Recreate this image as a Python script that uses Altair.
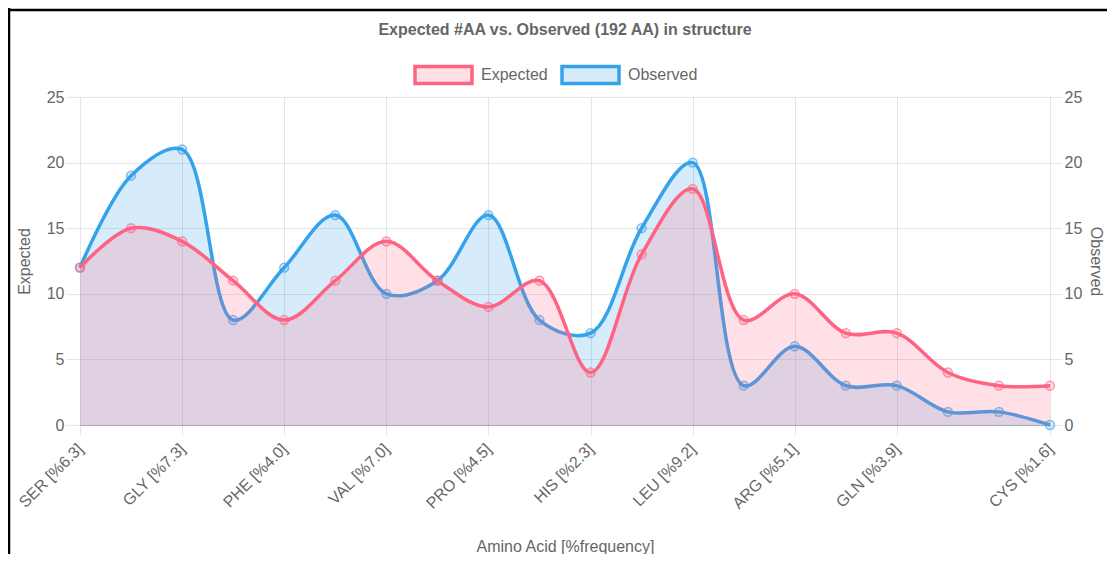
import altair as alt
import pandas as pd

categories = ["SER [%6.3]", "ALA [%7.8]", "GLY [%7.3]", "THR [%5.6]", "PHE [%4.0]",
              "ILE [%5.9]", "VAL [%7.0]", "ASP [%5.5]", "PRO [%4.5]", "LYS [%5.8]",
              "HIS [%2.3]", "GLU [%6.8]", "LEU [%9.2]", "ASN [%4.1]", "ARG [%5.1]",
              "TYR [%3.6]", "GLN [%3.9]", "MET [%2.1]", "TRP [%1.4]", "CYS [%1.6]"]
expected = [12, 15, 14, 11, 8, 11, 14, 11, 9, 11, 4, 13, 18, 8, 10, 7, 7, 4, 3, 3]
observed = [12, 19, 21, 8, 12, 16, 10, 11, 16, 8, 7, 15, 20, 3, 6, 3, 3, 1, 1, 0]
shown_labels = ["SER [%6.3]", "GLY [%7.3]", "PHE [%4.0]", "VAL [%7.0]", "PRO [%4.5]",
                "HIS [%2.3]", "LEU [%9.2]", "ARG [%5.1]", "GLN [%3.9]", "CYS [%1.6]"]
series_names = ["Expected", "Observed"]
y_ticks = [0, 5, 10, 15, 20, 25]

df = pd.DataFrame({
    "category": categories * 2,
    "series": [series_names[0]] * len(categories) + [series_names[1]] * len(categories),
    "value": expected + observed,
})

PINK = "rgb(255,99,132)"
BLUE = "rgb(54,162,235)"
PINK_F = "rgba(255,99,132,0.2)"
BLUE_F = "rgba(54,162,235,0.2)"
GRID = "rgba(0,0,0,0.1)"
TXT = "#666666"
W, H = 970, 328
INTERP = "catmull-rom"

fill_scale = alt.Scale(domain=series_names, range=[PINK_F, BLUE_F])
stroke_scale = alt.Scale(domain=series_names, range=[PINK, BLUE])
legend = alt.Legend(
    title=None, orient="none", legendX=333, legendY=-53, direction="horizontal",
    symbolType="M-1,-0.3H1V0.3H-1Z", symbolSize=3249, symbolStrokeWidth=3.5,
    symbolOpacity=1, labelFontSize=16, labelColor=TXT, labelOffset=7,
    columnPadding=7, padding=0,
)

x_enc = alt.X(
    "category:N", sort=categories,
    scale=alt.Scale(type="point", padding=0),
    axis=alt.Axis(
        values=shown_labels, title="Amino Acid [%frequency]",
        labelAngle=-45, labelAlign="right", labelBaseline="middle",
        labelFontSize=16, labelColor=TXT, labelPadding=11,
        tickSize=10, tickColor=GRID, grid=True, gridColor=GRID,
        domainColor="rgba(0,0,0,0.25)", titleFontSize=16, titleColor=TXT,
        titleFontWeight="normal", titleY=121, titleBaseline="middle",
    ),
)


def y_enc(orient):
    return alt.Y(
        "value:Q", scale=alt.Scale(domain=[0, 25], nice=False),
        axis=alt.Axis(
            orient=orient, values=y_ticks, title=("Expected" if orient == "left" else "Observed"),
            grid=(orient == "left"), gridColor=GRID, domain=False,
            tickSize=14 if orient == "left" else 12, tickColor=GRID, labelPadding=2,
            labelFontSize=16, labelColor=TXT, titleFontSize=16, titleColor=TXT,
            titleFontWeight="normal", titleBaseline="middle",
            titleX=(-56 if orient == "left" else 45), titleY=H / 2,
        ),
    )


def series_layer(name, orient, line_color, fill_color):
    base = alt.Chart(df).transform_filter(alt.datum.series == name).encode(x=x_enc, y=y_enc(orient))
    area = base.mark_area(interpolate=INTERP).encode(
        fill=alt.Fill("series:N", scale=fill_scale, legend=legend))
    line = base.mark_line(interpolate=INTERP, strokeWidth=3.5).encode(
        stroke=alt.Stroke("series:N", scale=stroke_scale, legend=legend))
    pts = base.mark_point(shape="circle", size=78, filled=False, fill=fill_color,
                          stroke=line_color, strokeWidth=1.5, strokeOpacity=0.65, opacity=1)
    return alt.layer(area, line, pts)


obs = series_layer("Observed", "right", BLUE, BLUE_F)
exp = series_layer("Expected", "left", PINK, PINK_F)

frame_src = alt.Chart(pd.DataFrame({"k": [0]}))
border_left = frame_src.mark_rule(color="black", strokeWidth=2.5).encode(
    x=alt.value(-71), y=alt.value(-89), y2=alt.value(470))
border_top = frame_src.mark_rule(color="black", strokeWidth=2.5).encode(
    x=alt.value(-73), x2=alt.value(1030), y=alt.value(-87))

chart = alt.layer(obs, exp, border_left, border_top).resolve_scale(y="independent").properties(
    width=W, height=H,
    autosize=alt.AutoSizeParams(type="none"),
    padding={"left": 72, "top": 89, "right": 57, "bottom": 129},
    title=alt.TitleParams(
        "Expected #AA vs. Observed (192 AA) in structure",
        fontSize=16, fontWeight="bold", color=TXT, anchor="middle", frame="group",
        offset=0, baseline="alphabetic", dy=44,
    ),
).configure(font="Arial").configure_view(stroke=None)

chart.save("out.html", embed_options={"renderer": "svg", "actions": False})
